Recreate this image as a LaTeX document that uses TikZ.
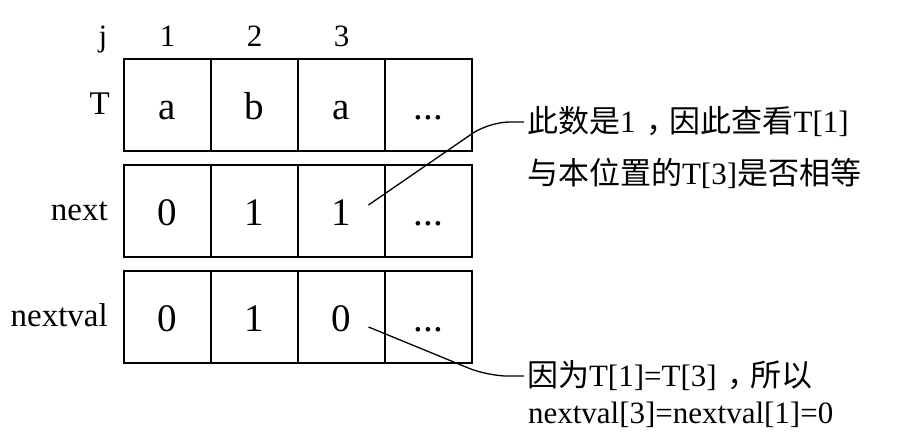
\documentclass[tikz,border=0pt]{standalone}
\usepackage{fontspec}
\setmainfont{Liberation Serif}
\newfontfamily\cjk{Noto Sans CJK SC}
\usepackage{tikz}
\usetikzlibrary{positioning,calc}
\newcommand{\zh}[1]{{\cjk #1}}
\newcommand{\zhcomma}{{\cjk\hspace{0.35em}，\hspace{-0.25em}}}

\tikzset{
  cell/.style={draw, line width=1.6pt, minimum width=87pt, minimum height=92pt,
               inner sep=0pt, outer sep=0pt, text height=30pt, text depth=0pt,
               font=\fontsize{39}{40}\selectfont},
  rowname/.style={inner sep=0pt, anchor=base east, font=\fontsize{33}{36}\selectfont},
  colnum/.style={inner sep=0pt, anchor=base, font=\fontsize{31}{34}\selectfont},
  note/.style={inner sep=0pt, outer sep=3pt, anchor=base west, font=\fontsize{31}{34}\selectfont},
  leader/.style={line width=1.3pt, rounded corners=20pt},
}

\begin{document}
\begin{tikzpicture}
  \useasboundingbox (0,0) rectangle (908pt,443pt);

  % string T
  \node[cell] (t1) at (167.5pt,338pt) {a};
  \node[cell, right=0pt of t1] (t2) {b};
  \node[cell, right=0pt of t2] (t3) {a};
  \node[cell, right=0pt of t3] (t4) {...};

  % next
  \node[cell, below=14pt of t1] (n1) {0};
  \node[cell, right=0pt of n1] (n2) {1};
  \node[cell, right=0pt of n2] (n3) {1};
  \node[cell, right=0pt of n3] (n4) {...};

  % nextval
  \node[cell, below=14pt of n1] (v1) {0};
  \node[cell, right=0pt of v1] (v2) {1};
  \node[cell, right=0pt of v2] (v3) {0};
  \node[cell, right=0pt of v3] (v4) {...};

  % index row and row names
  \node[colnum] (hj) at ($(t1.north west)+(-21pt,12pt)$) {j};
  \node[colnum] (h1) at ($(t1.north)+(0,12pt)$) {1};
  \node[colnum] (h2) at ($(t2.north)+(0,12pt)$) {2};
  \node[colnum] (h3) at ($(t3.north)+(0,12pt)$) {3};
  \node[rowname] (lt) at ($(t1.west)+(-14pt,-10pt)$) {T};
  \node[rowname] (ln) at ($(n1.west)+(-16pt,-10pt)$) {next};
  \node[rowname] (lv) at ($(v1.west)+(-16pt,-10pt)$) {nextval};

  % notes
  \node[note] (note1a) at (524pt,310pt) {\zh{此数是}1\zhcomma\zh{因此查看}T[1]};
  \node[note] (note1b) at ($(note1a.base west)+(0,-52pt)$) {\zh{与本位置的}T[3]\zh{是否相等}};
  \node[note] (note2a) at (524pt,56pt) {\zh{因为}T[1]=T[3]\zhcomma\zh{所以}};
  \node[note] (note2b) at ($(note2a.base west)+(1pt,-37pt)$) {nextval[3]=nextval[1]=0};

  \coordinate (p1) at ($(n3.center)+(27pt,6pt)$);
  \coordinate (p2) at ($(v3.center)+(27pt,-10pt)$);
  \draw[leader] (p1) -- ([xshift=-35pt]note1a.west) -- (note1a.west);
  \draw[leader] (p2) -- ([xshift=-36pt]note2a.west) -- (note2a.west);
\end{tikzpicture}
\end{document}
